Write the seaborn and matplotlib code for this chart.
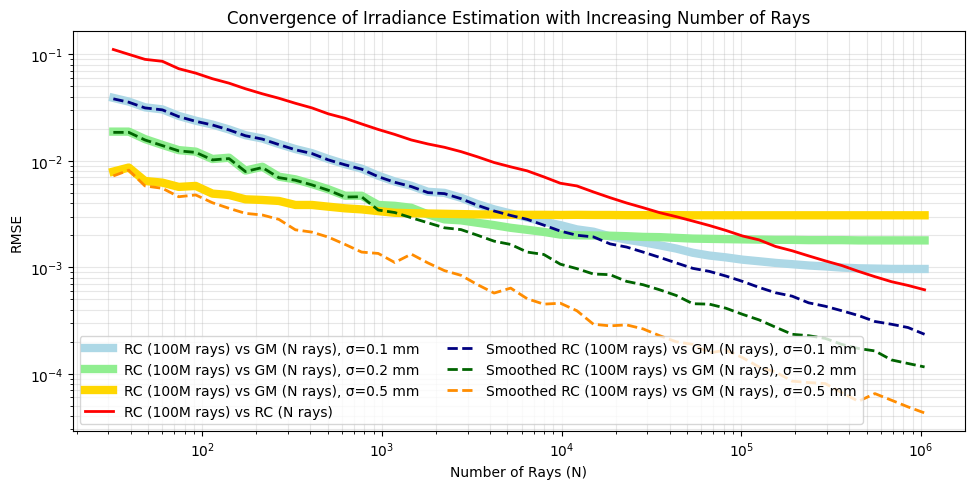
import numpy as np
import pandas as pd
import matplotlib
matplotlib.use("Agg")
import matplotlib.pyplot as plt
import seaborn as sns

# Number of rays (x values)
n_rays = [32, 39, 48, 60, 74, 92, 114, 141, 174, 216, 267, 330, 408, 504, 624, 771,
          954, 1179, 1458, 1803, 2229, 2756, 3407, 4213, 5209, 6440, 7963, 9845,
          12173, 15051, 18609, 23008, 28444, 35169, 43482, 53760, 66468, 82180,
          101600, 125630, 155320, 192030, 237430, 293550, 362940, 448720, 554810,
          685930, 848080, 1048576]

# RC (100M rays) vs GM (N rays), sigma = 0.1 mm
gm_01 = [0.0390, 0.0360, 0.0318, 0.0304, 0.0264, 0.0238, 0.0219, 0.0197, 0.0174, 0.0162,
         0.0144, 0.0129, 0.0118, 0.0104, 0.00930, 0.00845, 0.00725, 0.00640, 0.00583, 0.00512,
         0.00500, 0.00450, 0.00392, 0.00350, 0.00320, 0.00293, 0.00268, 0.00249, 0.00227, 0.00216,
         0.00195, 0.00182, 0.00172, 0.00161, 0.00150, 0.00137, 0.00129, 0.00124, 0.00118, 0.00114,
         0.00110, 0.00107, 0.00104, 0.00102, 0.000994, 0.000979, 0.000973, 0.000966, 0.000965, 0.000965]
# RC (100M rays) vs GM (N rays), sigma = 0.2 mm
gm_02 = [0.0188, 0.0188, 0.0160, 0.0141, 0.0126, 0.0122, 0.0104, 0.0107, 0.00810, 0.00880,
         0.00710, 0.00670, 0.00605, 0.00540, 0.00470, 0.00470, 0.00385, 0.00378, 0.00362, 0.00314,
         0.00282, 0.00276, 0.00262, 0.00249, 0.00235, 0.00225, 0.00215, 0.00203, 0.00200, 0.00199,
         0.00198, 0.00196, 0.00193, 0.00192, 0.00189, 0.00186, 0.00185, 0.00184, 0.00183, 0.00182,
         0.00181, 0.00181, 0.00180, 0.00180, 0.00180, 0.00179, 0.00179, 0.00179, 0.00179, 0.00179]
# RC (100M rays) vs GM (N rays), sigma = 0.5 mm
gm_05 = [0.00793, 0.00865, 0.00647, 0.00624, 0.00569, 0.00581, 0.00492, 0.00478, 0.00435, 0.00429,
         0.00420, 0.00385, 0.00385, 0.00371, 0.00358, 0.00350, 0.00337, 0.00325, 0.00322, 0.00320,
         0.00318, 0.00316, 0.00314, 0.00313, 0.00312, 0.00311, 0.00311, 0.00310, 0.00311, 0.00310,
         0.00310, 0.00309, 0.00309, 0.00309, 0.00309, 0.00308, 0.00308, 0.00308, 0.00308, 0.00308,
         0.00308, 0.00308, 0.00308, 0.00308, 0.00308, 0.00308, 0.00308, 0.00308, 0.00308, 0.00308]
# RC (100M rays) vs RC (N rays)
rc_rc = [0.111, 0.100, 0.0897, 0.0860, 0.0733, 0.0666, 0.0590, 0.0536, 0.0475, 0.0426,
         0.0387, 0.0347, 0.0314, 0.0276, 0.0251, 0.0222, 0.0197, 0.0177, 0.0157, 0.0144,
         0.0134, 0.0122, 0.0109, 0.00964, 0.00878, 0.00805, 0.00707, 0.00616, 0.00581, 0.00510,
         0.00451, 0.00402, 0.00363, 0.00326, 0.00299, 0.00272, 0.00247, 0.00222, 0.00197, 0.00181,
         0.00157, 0.00143, 0.00128, 0.00115, 0.00104, 0.000917, 0.000817, 0.000733, 0.000676, 0.000615]
# Smoothed RC (100M rays) vs GM (N rays), sigma = 0.1 mm
sm_01 = [0.0382, 0.0355, 0.0314, 0.0301, 0.0260, 0.0235, 0.0217, 0.0195, 0.0172, 0.0160,
         0.0142, 0.0127, 0.0117, 0.0102, 0.00917, 0.00835, 0.00710, 0.00629, 0.00573, 0.00503,
         0.00492, 0.00441, 0.00382, 0.00338, 0.00307, 0.00282, 0.00249, 0.00219, 0.00200, 0.00193,
         0.00166, 0.00155, 0.00139, 0.00124, 0.00110, 0.000978, 0.000916, 0.000828, 0.000738, 0.000648,
         0.000577, 0.000536, 0.000464, 0.000431, 0.000391, 0.000353, 0.000310, 0.000292, 0.000272, 0.000235]
# Smoothed RC (100M rays) vs GM (N rays), sigma = 0.2 mm
sm_02 = [0.0185, 0.0185, 0.0157, 0.0139, 0.0124, 0.0120, 0.0102, 0.0105, 0.00793, 0.00865,
         0.00695, 0.00657, 0.00594, 0.00529, 0.00457, 0.00460, 0.00345, 0.00327, 0.00292, 0.00262,
         0.00235, 0.00226, 0.00200, 0.00176, 0.00164, 0.00139, 0.00132, 0.00107, 0.000972, 0.000865,
         0.000853, 0.000738, 0.000686, 0.000615, 0.000544, 0.000455, 0.000451, 0.000413, 0.000362, 0.000321,
         0.000274, 0.000235, 0.000228, 0.000215, 0.000189, 0.000173, 0.000164, 0.000135, 0.000125, 0.000116]
# Smoothed RC (100M rays) vs GM (N rays), sigma = 0.5 mm
sm_05 = [0.00721, 0.00817, 0.00581, 0.00552, 0.00460, 0.00478, 0.00404, 0.00358, 0.00321, 0.00310,
         0.00282, 0.00225, 0.00214, 0.00192, 0.00164, 0.00139, 0.00135, 0.00111, 0.00133, 0.00110,
         0.000931, 0.000841, 0.000687, 0.000573, 0.000638, 0.000507, 0.000451, 0.000460, 0.000391, 0.000292,
         0.000282, 0.000288, 0.000264, 0.000228, 0.000200, 0.000189, 0.000157, 0.000167, 0.000142, 0.000116,
         0.000104, 8.53e-5, 8.28e-5, 8.10e-5, 6.66e-5, 5.52e-5, 6.52e-5, 5.65e-5, 4.89e-5, 4.29e-5]

labels = [
    "RC (100M rays) vs GM (N rays), σ=0.1 mm",
    "RC (100M rays) vs GM (N rays), σ=0.2 mm",
    "RC (100M rays) vs GM (N rays), σ=0.5 mm",
    "RC (100M rays) vs RC (N rays)",
    "Smoothed RC (100M rays) vs GM (N rays), σ=0.1 mm",
    "Smoothed RC (100M rays) vs GM (N rays), σ=0.2 mm",
    "Smoothed RC (100M rays) vs GM (N rays), σ=0.5 mm",
]
series = [gm_01, gm_02, gm_05, rc_rc, sm_01, sm_02, sm_05]
colors = ["lightblue", "lightgreen", "gold", "red", "navy", "darkgreen", "darkorange"]
widths = [6, 6, 6, 2, 2, 2, 2]
styles = ["-", "-", "-", "-", "--", "--", "--"]

frames = []
for lab, vals in zip(labels, series):
    frames.append(pd.DataFrame({"N": n_rays, "RMSE": vals, "series": lab}))
df = pd.concat(frames, ignore_index=True)

fig, ax = plt.subplots(figsize=(10, 5), dpi=100)
for lab, col, lw, ls in zip(labels, colors, widths, styles):
    sub = df[df["series"] == lab]
    sns.lineplot(data=sub, x="N", y="RMSE", ax=ax, color=col, linewidth=lw,
                 linestyle=ls, label=lab)

ax.set_xscale("log")
ax.set_yscale("log")
ax.grid(True, which="both", linestyle="-", alpha=0.3)
ax.set_xlabel("Number of Rays (N)")
ax.set_ylabel("RMSE")
ax.set_title("Convergence of Irradiance Estimation with Increasing Number of Rays")
ax.legend(loc="lower left", ncol=2, fontsize=10)
fig.tight_layout()
fig.savefig("out.png", dpi=100, bbox_inches="tight")
